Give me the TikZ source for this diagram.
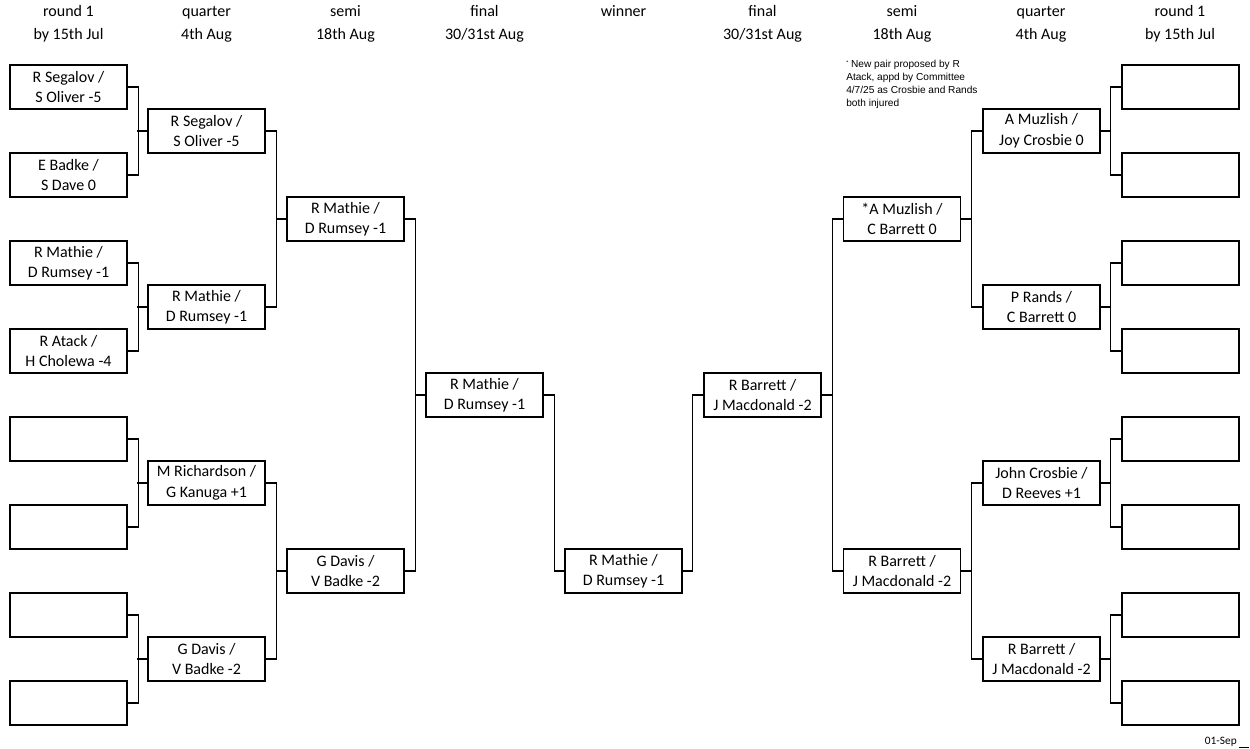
\documentclass[tikz,border=0pt]{standalone}
\usepackage{fontspec}
\setmainfont{Carlito}
\newfontfamily\notefont{Liberation Sans}
\newcommand{\boxfnt}{\fontsize{12}{15.4}\selectfont}
\tikzset{
  pairbox/.style={draw, line width=0.9pt, minimum width=87.75pt, minimum height=33pt, inner sep=0pt, align=center, font=\boxfnt},
  conn/.style={line width=0.8pt},
  head/.style={inner sep=0pt, anchor=base, font=\boxfnt}
}
\begin{document}
\begin{tikzpicture}[x=0.75pt, y=-0.75pt]
\useasboundingbox (0,0) rectangle (1250,749);
% headers
\foreach \n/\x/\a/\b in {h1/68.5/round 1/by 15th Jul, h2/206.5/quarter/4th Aug, h3/345.5/semi/18th Aug, h4/484.5/final/30\slash 31st Aug, h6/762.5/final/30\slash 31st Aug, h7/902/semi/18th Aug, h8/1041/quarter/4th Aug, h9/1180/round 1/by 15th Jul}{
  \node[head] (\n a) at (\x,16.5) {\a};
  \node[head] (\n b) at (\x,39.5) {\b};
}
\node[head] (h5a) at (623.5,16.5) {winner};
% left round 1
\node[pairbox] (L1) at (68.5,87) {R Segalov /\\S Oliver -5};
\node[pairbox] (L2) at (68.5,175) {E Badke /\\S Dave 0};
\node[pairbox] (L3) at (68.5,263) {R Mathie /\\D Rumsey -1};
\node[pairbox] (L4) at (68.5,351) {R Atack /\\H Cholewa -4};
\node[pairbox] (L5) at (68.5,439) {};
\node[pairbox] (L6) at (68.5,527) {};
\node[pairbox] (L7) at (68.5,615) {};
\node[pairbox] (L8) at (68.5,703) {};
% left quarter
\node[pairbox] (LQ1) at (206.5,131) {R Segalov /\\S Oliver -5};
\node[pairbox] (LQ2) at (206.5,307) {R Mathie /\\D Rumsey -1};
\node[pairbox] (LQ3) at (206.5,483) {M Richardson /\\G Kanuga +1};
\node[pairbox] (LQ4) at (206.5,659) {G Davis /\\V Badke -2};
% left semi
\node[pairbox] (LS1) at (345.5,219) {R Mathie /\\D Rumsey -1};
\node[pairbox] (LS2) at (345.5,571) {G Davis /\\V Badke -2};
% left final
\node[pairbox] (LF) at (484.5,395) {R Mathie /\\D Rumsey -1};
% winner
\node[pairbox] (W) at (623.5,571) {R Mathie /\\D Rumsey -1};
% right final
\node[pairbox] (RF) at (762.5,395) {R Barrett /\\J Macdonald -2};
% right semi
\node[pairbox] (RS1) at (902,219) {*A Muzlish /\\C Barrett 0};
\node[pairbox] (RS2) at (902,571) {R Barrett /\\J Macdonald -2};
% right quarter
\node[pairbox] (RQ1) at (1041.5,131) {A Muzlish /\\Joy Crosbie 0};
\node[pairbox] (RQ2) at (1041.5,307) {P Rands /\\C Barrett 0};
\node[pairbox] (RQ3) at (1041.5,483) {John Crosbie /\\D Reeves +1};
\node[pairbox] (RQ4) at (1041.5,659) {R Barrett /\\J Macdonald -2};
% right round 1
\foreach \i/\y in {1/87,2/175,3/263,4/351,5/439,6/527,7/615,8/703}{
  \node[pairbox] (R\i) at (1180.5,\y) {};
}
% left connectors
\draw[conn] (L1.east) -- ++(10.5,0) |- (L2.east);
\draw[conn] (L3.east) -- ++(10.5,0) |- (L4.east);
\draw[conn] (L5.east) -- ++(10.5,0) |- (L6.east);
\draw[conn] (L7.east) -- ++(10.5,0) |- (L8.east);
\draw[conn] (LQ1.west) -- ++(-10.5,0);
\draw[conn] (LQ2.west) -- ++(-10.5,0);
\draw[conn] (LQ3.west) -- ++(-10.5,0);
\draw[conn] (LQ4.west) -- ++(-10.5,0);
\draw[conn] (LQ1.east) -- ++(10.5,0) |- (LQ2.east);
\draw[conn] (LQ3.east) -- ++(10.5,0) |- (LQ4.east);
\draw[conn] (LS1.west) -- ++(-10.5,0);
\draw[conn] (LS2.west) -- ++(-10.5,0);
\draw[conn] (LS1.east) -- ++(10.5,0) |- (LS2.east);
\draw[conn] (LF.west) -- ++(-10.5,0);
\draw[conn] (LF.east) -- ++(10.5,0) |- (W.west);
% right connectors
\draw[conn] (RF.west) -- ++(-10.5,0) |- (W.east);
\draw[conn] (RS1.west) -- ++(-10.5,0) |- (RS2.west);
\draw[conn] (RF.east) -- ++(10.5,0);
\draw[conn] (RQ1.west) -- ++(-10.5,0) |- (RQ2.west);
\draw[conn] (RQ3.west) -- ++(-10.5,0) |- (RQ4.west);
\draw[conn] (RS1.east) -- ++(10.5,0);
\draw[conn] (RS2.east) -- ++(10.5,0);
\draw[conn] (R1.west) -- ++(-10.5,0) |- (R2.west);
\draw[conn] (R3.west) -- ++(-10.5,0) |- (R4.west);
\draw[conn] (R5.west) -- ++(-10.5,0) |- (R6.west);
\draw[conn] (R7.west) -- ++(-10.5,0) |- (R8.west);
\draw[conn] (RQ1.east) -- ++(10.5,0);
\draw[conn] (RQ2.east) -- ++(10.5,0);
\draw[conn] (RQ3.east) -- ++(10.5,0);
\draw[conn] (RQ4.east) -- ++(10.5,0);
% note
\node[anchor=north west, inner sep=0pt, align=left, font=\notefont\fontsize{7.6}{9.6}\selectfont] (note) at (846,60)
  {\raisebox{0.6ex}{\fontsize{4}{4}\selectfont*} New pair proposed by R\\Atack, appd by Committee\\4/7/25 as Crosbie and Rands\\both injured};
% date
\node[anchor=east, inner sep=0pt, font=\fontsize{8.5}{10}\selectfont] (date) at (1237,742) {01-Sep};
\coordinate (d1) at (1239,747.5);
\coordinate (d2) at (1249,747.5);
\draw[line width=0.8pt] (d1) -- (d2);
\end{tikzpicture}
\end{document}
